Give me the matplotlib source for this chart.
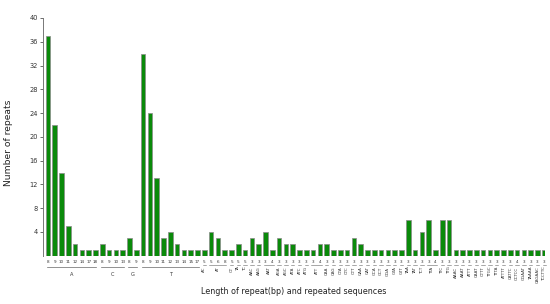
import matplotlib
matplotlib.use("Agg")
import matplotlib.pyplot as plt

groups = ['A', 'C', 'G', 'T', 'AC', 'AT', 'CT', 'TA', 'TC', 'AAC', 'AAG', 'AAT', 'AGA', 'AGC',
          'ATA', 'ATC', 'ATG', 'ATT', 'CAA', 'CAG', 'CTA', 'CTC', 'CTT', 'GAA', 'GAT', 'GCA',
          'GCT', 'GGA', 'GTA', 'GTT', 'TAA', 'TAT', 'TCT', 'TTA', 'TTC', 'TTG', 'AAAC', 'AAAT',
          'ATTT', 'CAAT', 'CTTT', 'TTGC', 'TTTA', 'ATTTT', 'CATTC', 'CCTCC', 'GGAAT', 'TAAAA',
          'CAGAAC', 'TCCTTC']

repeat_lengths = [
    [8, 9, 10, 11, 12, 14, 17, 18], [8, 9, 10, 13], [8, 9], [8, 9, 10, 11, 12, 13, 14, 15, 17],
    [5], [5, 6, 8], [5], [5], [5], [3], [3], [3, 4], [3], [3], [3], [3], [3], [3, 4], [3], [3],
    [3], [3], [3], [3], [3], [3], [3], [3], [3], [3], [3], [3], [3], [3, 4], [3], [3], [3], [3],
    [3], [3], [3], [3], [3], [3], [3], [4], [3], [3], [3], [3]]

counts = [
    [37, 22, 14, 5, 2, 1, 1, 1], [2, 1, 1, 1], [3, 1], [34, 24, 13, 3, 4, 2, 1, 1, 1],
    [1], [4, 3, 1], [1], [2], [1], [3], [2], [4, 1], [3], [2], [2], [1], [1], [1, 2], [2], [1],
    [1], [1], [3], [2], [1], [1], [1], [1], [1], [1], [6], [1], [4], [6, 1], [6], [6], [1], [1],
    [1], [1], [1], [1], [1], [1], [1], [1], [1], [1], [1], [1]]

y_ticks = [4, 8, 12, 16, 20, 24, 28, 32, 36, 40]

W, H = 550, 304
fig = plt.figure(figsize=(5.5, 3.04), dpi=100)
ax_left, ax_right, ax_top, ax_bot = 42.7, 545, 18, 255.7
ax = fig.add_axes([ax_left / W, 1 - ax_bot / H, (ax_right - ax_left) / W, (ax_bot - ax_top) / H])

xs, vals, lens = [], [], []
group_spans = []
i = 0
for g, ls, cs in zip(groups, repeat_lengths, counts):
    start = i
    for l, c in zip(ls, cs):
        xs.append(i)
        vals.append(c)
        lens.append(l)
        i += 1
    group_spans.append((start, i - 1))

ax.bar(xs, vals, width=0.68, color='#0a8a0a', edgecolor='#8a8a8a', linewidth=0.5)
ax.set_xlim(-0.76, len(xs) - 0.9)
ax.set_ylim(0, 40)
ax.set_yticks(y_ticks)
ax.set_yticklabels([str(t) for t in y_ticks], fontsize=4.8, color='#333333')
ax.tick_params(axis='y', length=2.5, width=0.6, color='#555555', pad=1)
ax.set_xticks([])
for s in ['top', 'right', 'bottom']:
    ax.spines[s].set_visible(False)
ax.spines['left'].set_color('#777777')
ax.spines['left'].set_linewidth(0.7)

hpx = ax_bot - ax_top
def fy(ypx):
    return (ax_bot - ypx) / hpx

tr = ax.get_xaxis_transform()
for x, l in zip(xs, lens):
    ax.text(x, fy(262.3), str(l), transform=tr, ha='center', va='center',
            fontsize=3.0, color='#333333', clip_on=False)

for gi, (g, (s, e)) in enumerate(zip(groups, group_spans)):
    if gi < 4:
        ax.plot([s - 0.15, e + 0.15], [fy(267), fy(267)], transform=tr, color='#666666',
                lw=0.5, clip_on=False)
        ax.text((s + e) / 2, fy(274), g, transform=tr, ha='center', va='center',
                fontsize=3.6, color='#333333', clip_on=False)
    else:
        ax.plot([s - 0.25, e + 0.25], [fy(265), fy(265)], transform=tr, color='#666666',
                lw=0.4, clip_on=False)
        ax.text((s + e) / 2, fy(266.5), g, transform=tr, ha='center', va='top',
                rotation=90, fontsize=2.9, color='#333333', clip_on=False)

fig.text(293.5 / W, 1 - 292 / H, 'Length of repeat(bp) and repeated sequences',
         ha='center', va='center', fontsize=5.8, color='#222222')
fig.text(8.5 / W, 1 - 143 / H, 'Number of repeats', rotation=90,
         ha='center', va='center', fontsize=6.6, color='#222222')

fig.savefig('out.png', dpi=100)
